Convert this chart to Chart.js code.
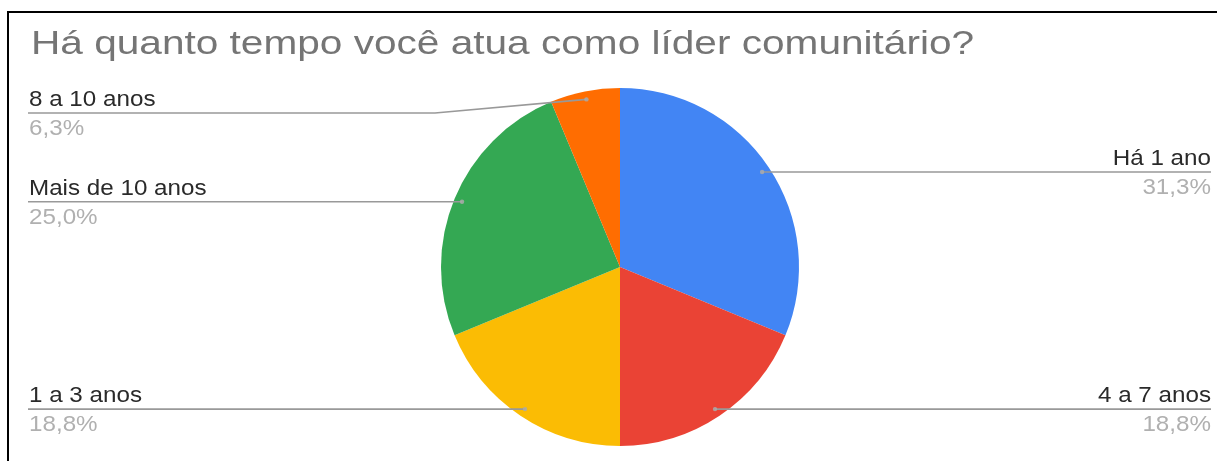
<!DOCTYPE html>
<html lang="pt-BR">
<head>
<meta charset="utf-8">
<title>Há quanto tempo você atua como líder comunitário?</title>
<script src="https://cdn.jsdelivr.net/npm/chart.js@4/dist/chart.umd.min.js"></script>
<style>
  html, body { margin: 0; padding: 0; background: #fff; overflow: hidden; }
  #frame {
    position: absolute; left: 7px; top: 11px; width: 1300px; height: 500px;
    border-top: 2px solid #000; border-left: 2px solid #000; box-sizing: border-box;
  }
  #c { position: absolute; left: 0; top: 0; }
</style>
</head>
<body>
<div id="frame"></div>
<canvas id="c" width="1217" height="461"></canvas>
<script>
// Survey answers and their shares (%)
const chartTitle = 'Há quanto tempo você atua como líder comunitário?';
const categories = ['Há 1 ano', '4 a 7 anos', '1 a 3 anos', 'Mais de 10 anos', '8 a 10 anos'];
const shares = [31.3, 18.8, 18.8, 25.0, 6.3];
const sliceColors = ['#4285f4', '#ea4335', '#fbbc04', '#34a853', '#ff6d01'];

const FONT = '"Liberation Sans", Arial, sans-serif';

function pct(v) {
  return v.toFixed(1).replace('.', ',') + '%';
}

// text drawn slightly widened horizontally
function wideText(ctx, text, x, y, sx, align) {
  ctx.save();
  ctx.translate(x, y);
  ctx.scale(sx, 1);
  ctx.textAlign = align;
  ctx.fillText(text, 0, 0);
  ctx.restore();
}

// Title, leader lines and outside labels
const calloutPlugin = {
  id: 'callouts',
  afterDraw(chart) {
    const ctx = chart.ctx;
    const leftX = 29, rightX = 1211;
    const minLineY = 113;
    const bendX = 435;

    ctx.save();
    ctx.textBaseline = 'alphabetic';
    // title
    ctx.font = '33px ' + FONT;
    ctx.fillStyle = '#757575';
    wideText(ctx, chartTitle, 31, 54, 1.23, 'left');

    const meta = chart.getDatasetMeta(0);
    meta.data.forEach((arc, i) => {
      const mid = (arc.startAngle + arc.endAngle) / 2;
      const r = arc.outerRadius * 0.955;
      const px = arc.x + Math.cos(mid) * r;
      const py = arc.y + Math.sin(mid) * r;
      const right = Math.cos(mid) >= 0;
      const lineY = Math.max(py, minLineY);

      // leader line
      ctx.strokeStyle = '#999999';
      ctx.lineWidth = 1.6;
      ctx.beginPath();
      ctx.moveTo(px, py);
      if (right) {
        ctx.lineTo(rightX, lineY);
      } else {
        if (lineY !== py) ctx.lineTo(bendX, lineY);
        ctx.lineTo(leftX - 1, lineY);
      }
      ctx.stroke();

      // anchor dot
      ctx.fillStyle = 'rgba(170,170,170,0.85)';
      ctx.beginPath();
      ctx.arc(px, py, 2.2, 0, Math.PI * 2);
      ctx.fill();

      // label text
      ctx.font = '22px ' + FONT;
      const align = right ? 'right' : 'left';
      const tx = right ? rightX : leftX;
      ctx.fillStyle = '#2a2a2a';
      wideText(ctx, categories[i], tx, lineY - 7, 1.1, align);
      ctx.fillStyle = '#b0b0b0';
      wideText(ctx, pct(shares[i]), tx, lineY + 22, 1.1, align);
    });
    ctx.restore();
  }
};

new Chart(document.getElementById('c'), {
  type: 'pie',
  data: {
    labels: categories,
    datasets: [{
      data: shares,
      backgroundColor: sliceColors,
      borderWidth: 0
    }]
  },
  options: {
    responsive: false,
    animation: false,
    layout: { padding: { top: 88, bottom: 15, left: 441, right: 418 } },
    plugins: {
      legend: { display: false },
      tooltip: { enabled: false }
    }
  },
  plugins: [calloutPlugin]
});
</script>
</body>
</html>
